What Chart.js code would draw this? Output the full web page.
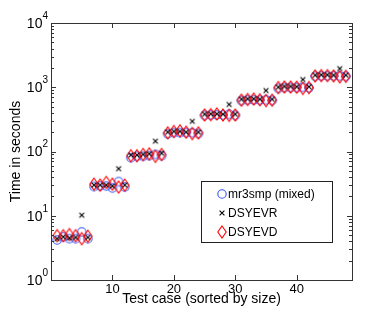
<!DOCTYPE html>
<html>
<head>
<meta charset="utf-8">
<script src="https://cdn.jsdelivr.net/npm/chart.js@4.4.1/dist/chart.umd.min.js"></script>
<style>
  html, body { margin: 0; padding: 0; background: #fff; }
  #wrap { position: relative; width: 390px; height: 314px; }
  #legend {
    position: absolute; left: 201px; top: 181px; width: 132px; height: 62px;
    border: 1px solid #222; background: #fff; box-sizing: border-box;
    font-family: 'Liberation Sans', Arial, sans-serif; font-size: 12px; color: #000;
  }
  .lg-row { position: absolute; left: 0; height: 16px; line-height: 16px; white-space: nowrap; }
  .lg-row canvas { position: absolute; left: 13px; top: 0; }
  .lg-row span { position: absolute; left: 26px; top: 0; }
</style>
</head>
<body>
<div id="wrap">
  <canvas id="chart" width="390" height="314"></canvas>
  <div id="legend"></div>
</div>
<script>
// ========================================
// Eigensolver timings, log scale
// ========================================

const testCases = [1, 2, 3, 4, 5, 6, 7, 8, 9, 10, 11, 12, 13, 14, 15, 16, 17, 18, 19, 20, 21, 22, 23, 24,
    25, 26, 27, 28, 29, 30, 31, 32, 33, 34, 35, 36, 37, 38, 39, 40, 41, 42, 43, 44, 45, 46, 47, 48];

const mr3smp = [4.2, 4.7, 4.4, 4.4, 5.6, 4.4,
    28.5, 29, 29, 27, 34, 28,
    80, 84, 84, 86, 90, 86,
    188, 196, 196, 196, 196, 190,
    365, 370, 370, 370, 380, 365,
    620, 635, 635, 630, 640, 625,
    960, 990, 990, 990, 1000, 980,
    1480, 1500, 1500, 1500, 1500, 1480];

const dsyevr = [4.4, 4.7, 4.5, 4.6, 10.2, 4.6,
    30, 30, 30, 29, 54, 30,
    88, 88, 90, 92, 145, 94,
    200, 205, 205, 200, 295, 200,
    380, 385, 385, 380, 540, 380,
    650, 660, 660, 650, 890, 650,
    1000, 1030, 1030, 1020, 1320, 1020,
    1540, 1560, 1560, 1540, 1950, 1540];

const dsyevd = [4.9, 4.9, 5.1, 4.9, 4.4, 4.8,
    31, 30, 33, 31, 28, 30,
    86, 86, 90, 92, 84, 90,
    195, 205, 210, 200, 190, 195,
    370, 375, 385, 370, 365, 370,
    630, 645, 655, 640, 620, 630,
    990, 1010, 1010, 1000, 960, 990,
    1500, 1520, 1520, 1500, 1450, 1480];

const xTicks = [10, 20, 30, 40];
const yTicks = [1, 10, 100, 1000, 10000];
const seriesNames = ['mr3smp (mixed)', 'DSYEVR', 'DSYEVD'];

const FONT = "'Liberation Sans', Arial, sans-serif";

// --- marker images ---
function makeMarker(kind, color) {
    const c = document.createElement('canvas');
    c.width = 14; c.height = 16;
    const g = c.getContext('2d');
    g.strokeStyle = color;
    g.lineWidth = 1.1;
    g.beginPath();
    if (kind === 'circle') {
        g.arc(7, 8, 4.2, 0, Math.PI * 2);
    } else if (kind === 'diamond') {
        g.moveTo(7, 2); g.lineTo(11.2, 8); g.lineTo(7, 14); g.lineTo(2.8, 8); g.closePath();
    } else {
        g.moveTo(4.6, 5.6); g.lineTo(9.4, 10.4);
        g.moveTo(9.4, 5.6); g.lineTo(4.6, 10.4);
    }
    g.stroke();
    return c;
}

const markers = [
    makeMarker('circle', '#3355ff'),
    makeMarker('cross', '#000'),
    makeMarker('diamond', '#ff0000'),
];

// --- axes frame, inward ticks and y labels ---
const framePlugin = {
    id: 'frame',
    afterDatasetsDraw(chart) {
        const { ctx, chartArea: a, scales } = chart;
        const xs = scales.x, ys = scales.y;
        ctx.save();
        ctx.strokeStyle = '#333';
        ctx.lineWidth = 1;
        ctx.strokeRect(a.left + 0.5, a.top + 0.5, a.right - a.left, a.bottom - a.top);

        ctx.beginPath();
        xTicks.forEach(v => {
            const px = Math.round(xs.getPixelForValue(v)) + 0.5;
            ctx.moveTo(px, a.bottom); ctx.lineTo(px, a.bottom - 5);
            ctx.moveTo(px, a.top); ctx.lineTo(px, a.top + 5);
        });
        for (let d = 0; d < yTicks.length; d++) {
            const base = yTicks[d];
            const py = Math.round(ys.getPixelForValue(base)) + 0.5;
            ctx.moveTo(a.left, py); ctx.lineTo(a.left + 5, py);
            ctx.moveTo(a.right, py); ctx.lineTo(a.right - 5, py);
            if (d < yTicks.length - 1) {
                for (let m = 2; m < 10; m++) {
                    const my = Math.round(ys.getPixelForValue(base * m)) + 0.5;
                    ctx.moveTo(a.left, my); ctx.lineTo(a.left + 3, my);
                    ctx.moveTo(a.right, my); ctx.lineTo(a.right - 3, my);
                }
            }
        }
        ctx.stroke();

        // y tick labels: 10 with raised exponent
        ctx.fillStyle = '#000';
        ctx.textBaseline = 'middle';
        yTicks.forEach((v, i) => {
            const py = ys.getPixelForValue(v);
            ctx.font = '10px ' + FONT;
            const exp = String(i);
            const ew = ctx.measureText(exp).width;
            ctx.textAlign = 'right';
            ctx.fillText(exp, a.left - 3, py - 7);
            ctx.font = '14px ' + FONT;
            ctx.fillText('10', a.left - 3 - ew, py + 1);
        });
        ctx.restore();
    }
};

new Chart(document.getElementById('chart'), {
    type: 'scatter',
    data: {
        datasets: [
            {
                label: seriesNames[0],
                data: testCases.map((x, i) => ({ x, y: mr3smp[i] })),
                pointStyle: markers[0],
                order: 3,
            },
            {
                label: seriesNames[1],
                data: testCases.map((x, i) => ({ x, y: dsyevr[i] })),
                pointStyle: markers[1],
                order: 1,
            },
            {
                label: seriesNames[2],
                data: testCases.map((x, i) => ({ x, y: dsyevd[i] })),
                pointStyle: markers[2],
                order: 2,
            },
        ]
    },
    options: {
        responsive: false,
        animation: false,
        layout: { padding: { left: 8, right: 38, top: 23, bottom: 6 } },
        plugins: { legend: { display: false }, tooltip: { enabled: false } },
        scales: {
            x: {
                type: 'linear',
                min: 0, max: 49,
                afterBuildTicks: s => { s.ticks = xTicks.map(v => ({ value: v })); },
                afterFit: s => { s.height = 28; },
                grid: { display: false, drawTicks: false },
                border: { display: false },
                ticks: { color: '#000', padding: 2, maxRotation: 0, font: { family: FONT, size: 13 } },
                title: { display: true, text: 'Test case (sorted by size)', color: '#000', padding: 0, font: { family: FONT, size: 14 } },
            },
            y: {
                type: 'logarithmic',
                min: 1, max: 10000,
                afterBuildTicks: s => { s.ticks = yTicks.map(v => ({ value: v })); },
                afterFit: s => { s.width = 43; },
                grid: { display: false, drawTicks: false },
                border: { display: false },
                ticks: { display: false },
                title: { display: true, text: 'Time in seconds', color: '#000', padding: 0, font: { family: FONT, size: 14 } },
            }
        }
    },
    plugins: [framePlugin]
});

// --- legend box ---
const legend = document.getElementById('legend');
seriesNames.forEach((name, i) => {
    const row = document.createElement('div');
    row.className = 'lg-row';
    row.style.top = (4 + i * 19) + 'px';
    const mk = makeMarker(['circle', 'cross', 'diamond'][i], ['#3355ff', '#000', '#ff0000'][i]);
    row.appendChild(mk);
    const sp = document.createElement('span');
    sp.textContent = name;
    row.appendChild(sp);
    legend.appendChild(row);
});
</script>
</body>
</html>
